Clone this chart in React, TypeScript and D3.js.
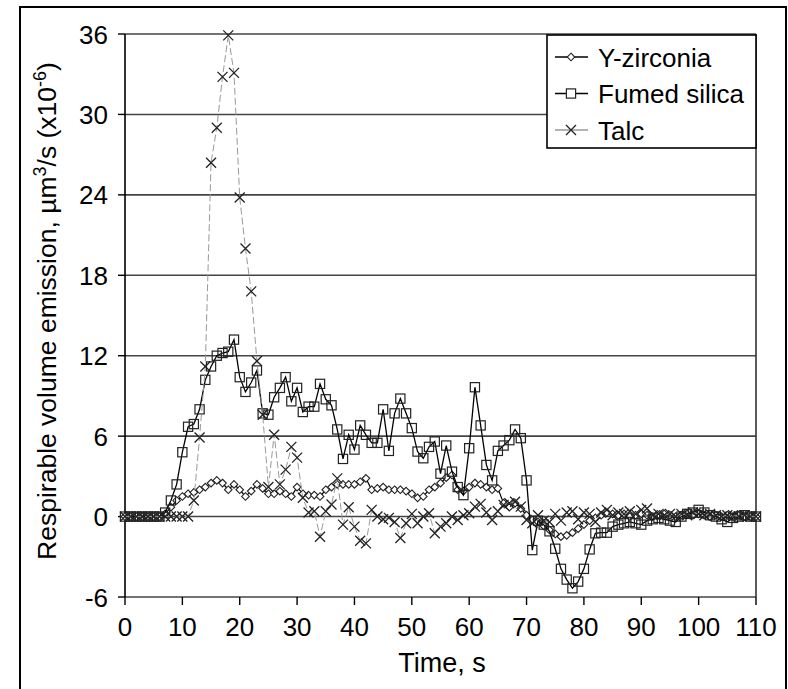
import React from "react";
import * as d3 from "d3";

const times: number[] = Array.from({ length: 111 }, (_, i) => i);

const yZirconia: number[] = [
  0, 0, 0, 0, 0, 0, 0, 0.2, 0.7, 1.2,
  1.5, 1.7, 1.8, 2.0, 2.2, 2.5, 2.7, 2.5, 2.0, 2.4,
  2.0, 1.5, 1.9, 2.4, 2.1, 1.7, 1.7, 1.9, 1.7, 1.5,
  2.2, 1.7, 1.6, 1.6, 1.5, 2.0, 2.2, 2.4, 2.4, 2.4,
  2.4, 2.6, 2.85, 2.0, 2.1, 2.2, 2.0, 2.0, 2.0, 1.9,
  1.7, 1.4, 1.5, 2.0, 2.2, 2.5, 2.9, 3.1, 2.0, 1.9,
  2.2, 2.5, 2.4, 2.2, 2.0, 2.1, 1.0, 0.7, 1.0, 0.6,
  0.1, -0.25, -0.4, -0.7, -1.0, -1.3, -1.5, -1.4, -1.2, -0.9,
  -0.6, -0.3, -0.1, 0.1, 0.3, 0.2, 0.1, 0.2, 0.0, 0.1,
  0.2, 0.1, 0.0, 0.1, 0.2, 0.1, 0.0, 0.1, 0.2, 0.1,
  0.2, 0.1, 0.0, 0.1, 0.0, 0.1, 0.0, 0.1, 0.0, 0.0, 0.0,
];

const fumedSilica: number[] = [
  0, 0, 0, 0, 0, 0, 0, 0.3, 1.2, 2.4,
  4.8, 6.7, 6.9, 8.0, 10.2, 11.2, 12.0, 12.2, 12.3, 13.2,
  10.4, 9.3, 10.0, 10.9, 7.7, 7.6, 8.9, 9.6, 10.4, 8.6,
  9.6, 7.8, 8.2, 8.2, 9.9, 8.75, 8.3, 6.5, 4.3, 6.1,
  5.0, 6.8, 6.1, 5.5, 5.5, 8.0, 4.9, 7.7, 8.8, 7.7,
  6.6, 4.85, 4.35, 5.2, 5.6, 3.2, 5.3, 3.35, 2.2, 1.6,
  5.1, 9.65, 6.8, 3.85, 2.7, 4.9, 5.3, 5.7, 6.5, 5.85,
  2.7, -2.5, -0.3, -0.6, -1.1, -2.4, -3.9, -4.7, -5.35, -4.85,
  -3.9, -2.45, -1.25, -1.2, -1.2, -0.75, -0.6, -0.5, -0.4, -0.5,
  -0.6, -0.3, -0.2, -0.1, -0.2, -0.3, -0.4, 0.0, 0.2, 0.3,
  0.5, 0.3, 0.1, 0.0, -0.2, -0.4, -0.1, 0.0, 0.1, 0.0, 0.0,
];

const talc: number[] = [
  0, 0, 0, 0, 0, 0, 0, 0, 0, 0,
  0, 0, 1.2, 5.9, 11.2, 26.4, 29.0, 32.8, 35.9, 33.1,
  23.8, 20.0, 16.8, 11.6, 7.6, 2.2, 6.1, 2.4, 3.5, 5.2,
  4.4, 1.4, 0.3, 0.4, -1.5, 0.4, 0.9, 2.85, -0.6, 0.7,
  -0.75, -1.8, -2.0, 0.5, 0.0, -0.2, -0.1, -0.4, -1.6, -0.5,
  0.2, -0.5, 0.0, 0.25, -1.25, -0.75, -0.5, 0.0, -0.25, 0.1,
  0.25, 0.74, 0.95, 0.3, -0.25, 0.4, 0.87, 1.0, 1.1, 0.74,
  -0.25, -0.5, 0.1, -0.3, -0.4, 0.2, -0.3, 0.3, 0.4, -0.2,
  0.3, 0.2, -0.4, 0.3, 0.5, 0.1, 0.3, 0.2, 0.4, 0.2,
  0.5, 0.6, 0.1, 0.2, 0.1, 0.2, 0.0, 0.2, 0.1, 0.3,
  0.2, 0.1, 0.2, 0.1, 0.0, 0.1, 0.1, 0.0, 0.1, 0.0, 0.0,
];

const yTicks: number[] = [-6, 0, 6, 12, 18, 24, 30, 36];
const xTicks: number[] = [0, 10, 20, 30, 40, 50, 60, 70, 80, 90, 100, 110];
const seriesNames: string[] = ["Y-zirconia", "Fumed silica", "Talc"];

const FONT = "Arial, 'Liberation Sans', sans-serif";

export default function App() {
  const x = d3.scaleLinear().domain([0, 110]).range([125, 756]);
  const y = d3.scaleLinear().domain([-6, 36]).range([597, 34]);

  const mk = (vals: number[]) =>
    d3
      .line<number>()
      .x((_, i) => x(times[i]))
      .y((v) => y(v))(vals) as string;

  const diamond = (cx: number, cy: number, r = 3.8) =>
    `M${cx},${cy - r}L${cx + r},${cy}L${cx},${cy + r}L${cx - r},${cy}Z`;

  return (
    <svg
      width={788}
      height={689}
      style={{ position: "absolute", left: 0, top: 0, background: "#fff" }}
      fontFamily={FONT}
    >
      <rect x={20} y={7} width={766} height={690} fill="#fff" stroke="#000" strokeWidth={2} />

      {/* gridlines */}
      {yTicks.map((t) => (
        <line key={"g" + t} x1={125} x2={756} y1={y(t)} y2={y(t)} stroke="#444" strokeWidth={1.6} />
      ))}
      {/* axes frame */}
      <line x1={125} x2={125} y1={34} y2={597} stroke="#000" strokeWidth={1.6} />
      <line x1={756} x2={756} y1={34} y2={597} stroke="#333" strokeWidth={1.6} />

      {/* y ticks */}
      {yTicks.map((t) => (
        <g key={"yt" + t}>
          <line x1={118} x2={125} y1={y(t)} y2={y(t)} stroke="#000" strokeWidth={1.4} />
          <text x={108} y={y(t) + 9.5} fontSize={26} textAnchor="end" fill="#000">
            {t}
          </text>
        </g>
      ))}
      {/* x ticks */}
      {xTicks.map((t) => (
        <g key={"xt" + t}>
          <line x1={x(t)} x2={x(t)} y1={597} y2={605} stroke="#000" strokeWidth={1.4} />
          <text x={x(t)} y={636} fontSize={26} textAnchor="middle" fill="#000">
            {t}
          </text>
        </g>
      ))}

      <text x={442} y={672} fontSize={27} textAnchor="middle" fill="#000">
        Time, s
      </text>
      <text
        transform="translate(56,311) rotate(-90)"
        fontSize={26.5}
        textAnchor="middle"
        fill="#000"
      >
        Respirable volume emission, µm
        <tspan dy={-10} fontSize={18}>3</tspan>
        <tspan dy={10}>/s (x10</tspan>
        <tspan dy={-10} fontSize={18}>-6</tspan>
        <tspan dy={10}>)</tspan>
      </text>

      {/* Y-zirconia */}
      <path d={mk(yZirconia)} fill="none" stroke="#000" strokeWidth={1.2} />
      {yZirconia.map((v, i) => (
        <path key={"d" + i} d={diamond(x(times[i]), y(v))} fill="#fff" stroke="#222" strokeWidth={1.1} />
      ))}

      {/* Fumed silica */}
      <path d={mk(fumedSilica)} fill="none" stroke="#000" strokeWidth={1.3} />
      {fumedSilica.map((v, i) => (
        <rect
          key={"s" + i}
          x={x(times[i]) - 4.6}
          y={y(v) - 4.6}
          width={9.2}
          height={9.2}
          fill="none"
          stroke="#222"
          strokeWidth={1.2}
        />
      ))}

      {/* Talc */}
      <path d={mk(talc)} fill="none" stroke="#999" strokeWidth={1} strokeDasharray="7,3" />
      {talc.map((v, i) => {
        const cx = x(times[i]);
        const cy = y(v);
        const r = 5;
        return (
          <path
            key={"x" + i}
            d={`M${cx - r},${cy - r}L${cx + r},${cy + r}M${cx - r},${cy + r}L${cx + r},${cy - r}`}
            stroke="#222"
            strokeWidth={1.3}
          />
        );
      })}

      {/* legend */}
      <rect x={547} y={35} width={209} height={113} fill="#fff" stroke="#000" strokeWidth={1.6} />
      {seriesNames.map((name, i) => {
        const ly = 57 + i * 36.5;
        const cx = 571;
        return (
          <g key={"l" + i}>
            <line x1={555} x2={588} y1={ly} y2={ly} stroke={i === 2 ? "#999" : "#000"} strokeWidth={1.3} />
            {i === 0 && <path d={diamond(cx, ly, 3.8)} fill="#fff" stroke="#222" strokeWidth={1.1} />}
            {i === 1 && (
              <rect x={cx - 4.6} y={ly - 4.6} width={9.2} height={9.2} fill="#fff" stroke="#222" strokeWidth={1.2} />
            )}
            {i === 2 && (
              <path
                d={`M${cx - 5},${ly - 5}L${cx + 5},${ly + 5}M${cx - 5},${ly + 5}L${cx + 5},${ly - 5}`}
                stroke="#222"
                strokeWidth={1.3}
              />
            )}
            <text x={598} y={ly + 9.5} fontSize={26} fill="#000">
              {name}
            </text>
          </g>
        );
      })}
    </svg>
  );
}
